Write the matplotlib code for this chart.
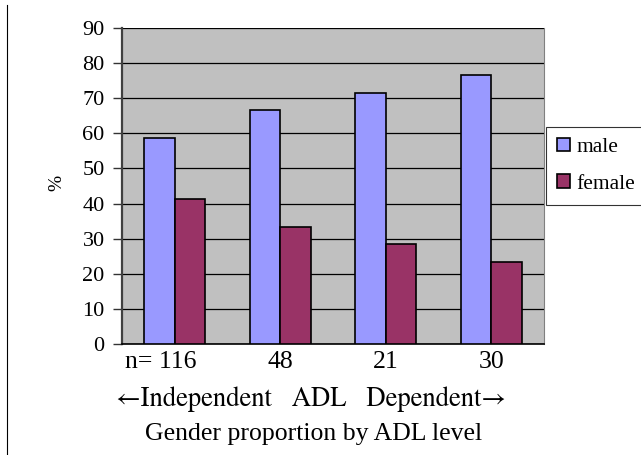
import matplotlib as mpl
import matplotlib.pyplot as plt
import matplotlib.transforms as mtransforms
import numpy as np

mpl.rcParams.update({
    "font.family": ["Liberation Serif", "DejaVu Serif"],
    "font.size": 15,
})

# data
group_labels = ["n= 116", "48", "21", "30"]
male = [58.6, 66.7, 71.4, 76.7]
female = [41.4, 33.3, 28.6, 23.3]
series_names = ["male", "female"]
colors = ["#9999FF", "#993366"]

fig = plt.figure(figsize=(6.41, 4.55), dpi=100)
ax = fig.add_axes([122 / 641, 1 - 344 / 455, 422 / 641, 316 / 455])
ax.set_facecolor("#C0C0C0")

x = np.arange(len(group_labels))
w = 0.29
ax.bar(x - w / 2, male, w, color=colors[0], edgecolor="black", linewidth=1.2,
       label=series_names[0], zorder=3)
ax.bar(x + w / 2, female, w, color=colors[1], edgecolor="black", linewidth=1.2,
       label=series_names[1], zorder=3)

ax.set_xlim(-0.5, 3.5)
ax.set_ylim(0, 90)
ax.set_yticks(range(0, 91, 10))
ax.yaxis.grid(True, color="black", linewidth=0.9, zorder=1)
ax.set_axisbelow(True)
ax.set_xticks(x)
ax.set_xticklabels(group_labels, fontsize=18.5)
ax.tick_params(axis="x", length=0, pad=5)
ax.tick_params(axis="y", direction="out", length=6.5, width=1, pad=6,
               color="#333333", labelsize=16)

# the "n= 116" label sits a bit left of its group in the original
first = ax.get_xticklabels()[0]
first.set_transform(first.get_transform()
                    + mtransforms.ScaledTranslation(-14 / 100, 0, fig.dpi_scale_trans))

ax.spines["top"].set_visible(False)
ax.spines["right"].set_color("#808080")
ax.spines["right"].set_linewidth(0.8)
ax.spines["left"].set_color("#404040")
ax.spines["left"].set_linewidth(1.6)
ax.spines["bottom"].set_color("black")
ax.spines["bottom"].set_linewidth(1.2)

fig.text(57 / 641, 1 - 183 / 455, "%", rotation=90, ha="center", va="center", fontsize=14)

fig.text(311 / 641, 1 - 399 / 455, "\u2190Independent   ADL   Dependent\u2192",
         ha="center", va="center", fontsize=19.2, family=["STIXGeneral", "DejaVu Serif"])
fig.text(314 / 641, 1 - 434 / 455, "Gender proportion by ADL level",
         ha="center", va="center", fontsize=18.5)

leg = fig.legend(loc="upper left", bbox_to_anchor=(546 / 641, 1 - 127 / 455),
                 fontsize=15.5, frameon=True, fancybox=False, edgecolor="black",
                 handlelength=0.6, handleheight=0.6, handletextpad=0.3,
                 borderpad=0.5, labelspacing=0.8, borderaxespad=0)
leg.get_frame().set_linewidth(0.8)

# page border line at left
fig.add_artist(plt.Line2D([7 / 641, 7 / 641], [0, 1 - 5 / 455], color="black", linewidth=0.8))

fig.savefig("out.png", dpi=100)
